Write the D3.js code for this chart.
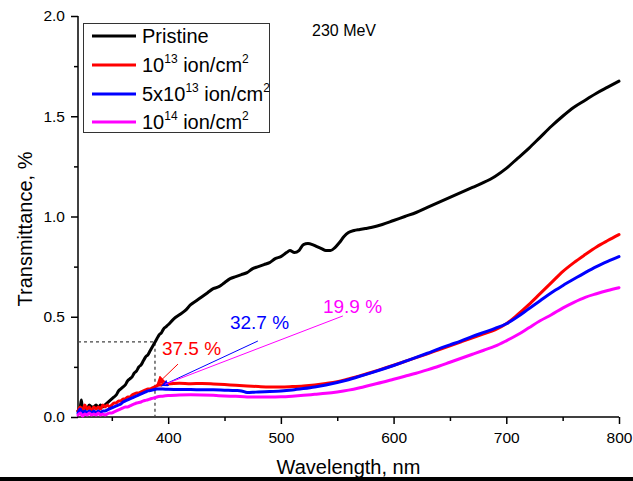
<!DOCTYPE html>
<html>
<head>
<meta charset="utf-8">
<script src="https://cdn.jsdelivr.net/npm/d3@7/dist/d3.min.js"></script>
<style>
  html, body { margin: 0; padding: 0; background: #fff; }
  svg { display: block; font-family: Arial, "Liberation Sans", sans-serif; }
</style>
</head>
<body>
<svg id="chart" width="633" height="481"></svg>
<script>
// Optical transmittance spectra of the irradiated samples (230 MeV ions)
const seriesNames = ["Pristine", "10^13 ion/cm^2", "5x10^13 ion/cm^2", "10^14 ion/cm^2"];
const seriesColors = ["#000000", "#ff0000", "#0000ff", "#ff00ff"];

const wlPristine = [320,322,323,324,326,328,330,332,334,336,338,340,342,344,346,348,350,352,354,356,358,360,362,364,366,368,370,372,374,376,378,380,382,384,386,388,390,392,394,396,398,400,405,410,415,420,425,430,435,440,445,450,455,460,465,470,475,480,485,490,495,500,505,508,512,516,520,524,528,532,536,540,544,548,552,556,560,565,570,575,580,590,600,610,620,630,640,650,660,670,680,690,700,710,720,730,740,750,760,770,780,790,800];
const tPristine = [0.03,0.05,0.085,0.04,0.05,0.04,0.06,0.05,0.05,0.06,0.045,0.06,0.05,0.06,0.07,0.08,0.09,0.10,0.11,0.13,0.14,0.15,0.16,0.18,0.19,0.20,0.22,0.23,0.25,0.26,0.28,0.30,0.31,0.33,0.35,0.37,0.39,0.41,0.42,0.44,0.45,0.46,0.49,0.51,0.53,0.56,0.58,0.60,0.62,0.64,0.65,0.67,0.69,0.70,0.71,0.72,0.74,0.75,0.76,0.77,0.79,0.80,0.82,0.83,0.82,0.83,0.86,0.865,0.86,0.85,0.84,0.83,0.83,0.845,0.87,0.90,0.92,0.93,0.935,0.94,0.945,0.96,0.98,1.00,1.02,1.045,1.07,1.095,1.12,1.145,1.17,1.20,1.24,1.29,1.34,1.395,1.45,1.50,1.545,1.58,1.615,1.645,1.675];

const wlLow = [320,322,324,326,328,330,332,334,336,338,340,342,344,346,348,350,352,354,356,358,360,362,364,366,368,370,372,374,376,378,380,382,384,386,388,390,392,394,396,398,400,410,420,430,440,450,460,470,480,490,500,510,520,530,540,550,560,570,580,590,600,610,620,630,640,650,660,670,680,690,700,710,720,730,740,750,760,770,780,790,800];
const tLow = [0.03,0.05,0.03,0.06,0.04,0.05,0.03,0.05,0.04,0.05,0.04,0.06,0.05,0.06,0.05,0.06,0.07,0.07,0.08,0.08,0.09,0.09,0.10,0.10,0.11,0.115,0.12,0.12,0.125,0.13,0.135,0.14,0.14,0.145,0.15,0.155,0.16,0.16,0.165,0.165,0.165,0.168,0.166,0.167,0.165,0.162,0.158,0.155,0.152,0.150,0.150,0.152,0.155,0.160,0.167,0.176,0.19,0.205,0.222,0.24,0.258,0.277,0.296,0.315,0.335,0.355,0.375,0.395,0.415,0.435,0.465,0.51,0.56,0.615,0.67,0.725,0.77,0.81,0.848,0.88,0.91];

const wlMid = [320,322,324,326,328,330,332,334,336,338,340,342,344,346,348,350,352,354,356,358,360,362,364,366,368,370,372,374,376,378,380,382,384,386,388,390,395,400,410,420,430,440,450,460,465,470,475,480,490,500,510,520,530,540,550,560,570,580,590,600,610,620,630,640,650,660,670,680,690,700,710,720,730,740,750,760,770,780,790,800];
const tMid = [0.02,0.04,0.02,0.03,0.02,0.03,0.02,0.03,0.02,0.03,0.02,0.03,0.03,0.035,0.04,0.045,0.05,0.055,0.06,0.065,0.075,0.08,0.085,0.09,0.095,0.10,0.105,0.11,0.115,0.12,0.125,0.13,0.132,0.135,0.137,0.14,0.14,0.138,0.137,0.137,0.136,0.136,0.134,0.132,0.13,0.122,0.123,0.125,0.127,0.13,0.135,0.142,0.150,0.16,0.172,0.186,0.203,0.22,0.238,0.257,0.277,0.297,0.318,0.34,0.36,0.38,0.402,0.422,0.442,0.465,0.5,0.54,0.58,0.62,0.655,0.688,0.72,0.75,0.776,0.80];

const wlHigh = [320,322,324,326,328,330,332,334,336,338,340,342,344,346,348,350,352,354,356,358,360,362,364,366,368,370,372,374,376,378,380,382,384,386,388,390,395,400,410,420,430,440,450,460,470,480,490,500,510,520,530,540,550,560,570,580,590,600,610,620,630,640,650,660,670,680,690,700,710,720,730,740,750,760,770,780,790,800];
const tHigh = [0.01,0.02,0.005,0.015,0.01,0.02,0.01,0.015,0.01,0.02,0.01,0.015,0.01,0.015,0.02,0.02,0.025,0.03,0.035,0.04,0.045,0.05,0.05,0.055,0.06,0.065,0.07,0.072,0.075,0.08,0.083,0.086,0.09,0.093,0.096,0.10,0.104,0.107,0.11,0.111,0.11,0.108,0.105,0.103,0.10,0.10,0.10,0.101,0.104,0.108,0.113,0.118,0.125,0.134,0.146,0.16,0.173,0.188,0.203,0.218,0.235,0.253,0.273,0.293,0.313,0.333,0.353,0.38,0.41,0.445,0.48,0.51,0.543,0.572,0.597,0.615,0.631,0.645];

const xTicks = [400, 500, 600, 700, 800];
const xMinorTicks = [350, 450, 550, 650, 750];
const yTicks = [0.0, 0.5, 1.0, 1.5, 2.0];
const yMinorTicks = [0.25, 0.75, 1.25, 1.75];

// Absorption-edge readings quoted on the plot
const edgeLabels = ["37.5 %", "32.7 %", "19.9 %"];
const edgeWavelength = 388.3;
const edgeLevel = 0.375;

const svg = d3.select("#chart");
const margin = { left: 78, right: 14, top: 16, bottom: 64 };
const W = 633, H = 481;

const x = d3.scaleLinear().domain([320, 800]).range([margin.left, W - margin.right]);
const y = d3.scaleLinear().domain([0, 2]).range([H - margin.bottom, margin.top]);

// thick rule along the bottom edge
svg.append("rect").attr("x", 0).attr("y", 477).attr("width", W).attr("height", 4).attr("fill", "#000");

// axes
const xAxis = svg.append("g").attr("transform", `translate(0,${y(0)})`)
  .call(d3.axisBottom(x).tickValues(xTicks).tickSize(7).tickPadding(8).tickFormat(d3.format("d")));
svg.append("g").attr("transform", `translate(0,${y(0)})`)
  .call(d3.axisBottom(x).tickValues(xMinorTicks).tickSize(4).tickFormat(""))
  .select(".domain").remove();
const yAxis = svg.append("g").attr("transform", `translate(${x(320)},0)`)
  .call(d3.axisLeft(y).tickValues(yTicks).tickSize(7).tickPadding(6).tickFormat(d3.format(".1f")));
svg.append("g").attr("transform", `translate(${x(320)},0)`)
  .call(d3.axisLeft(y).tickValues(yMinorTicks).tickSize(4).tickFormat(""))
  .select(".domain").remove();

svg.selectAll(".domain").attr("stroke", "#000").attr("stroke-width", 1.5);
svg.selectAll(".tick line").attr("stroke", "#000").attr("stroke-width", 1.5);
svg.selectAll(".tick text").attr("font-size", 15.5).attr("fill", "#000")
  .attr("font-family", "Arial, 'Liberation Sans', sans-serif");
xAxis.selectAll(".domain").attr("d", `M${x(320)},0H${x(800)}`);
yAxis.selectAll(".domain").attr("d", `M0,${y(0)}V${y(2)}`);

// axis titles
svg.append("text").attr("x", (x(320) + x(800)) / 2).attr("y", 474)
  .attr("text-anchor", "middle").attr("font-size", 20).text("Wavelength, nm");
svg.append("text").attr("transform", `translate(32,229) rotate(-90)`)
  .attr("text-anchor", "middle").attr("font-size", 20).text("Transmittance, %");

// dashed guide to the pristine absorption edge
svg.append("path")
  .attr("d", `M${x(320)},${y(edgeLevel)}H${x(edgeWavelength)}V${y(0)}`)
  .attr("fill", "none").attr("stroke", "#444").attr("stroke-width", 1.3).attr("stroke-dasharray", "3,3");

// spectra
const series = [
  { wl: wlPristine, t: tPristine },
  { wl: wlLow, t: tLow },
  { wl: wlMid, t: tMid },
  { wl: wlHigh, t: tHigh }
];
const line = d3.line().x(d => x(d[0])).y(d => y(d[1])).curve(d3.curveMonotoneX);
series.forEach((s, i) => {
  svg.append("path")
    .datum(s.wl.map((w, k) => [w, s.t[k]]))
    .attr("d", line)
    .attr("fill", "none")
    .attr("stroke", seriesColors[i])
    .attr("stroke-width", 3)
    .attr("stroke-linejoin", "round")
    .attr("stroke-linecap", "round");
});

// arrowheads
const defs = svg.append("defs");
[["arrR", "#ff0000", 9], ["arrB", "#0000ff", 7]].forEach(([id, c, s]) => {
  defs.append("marker").attr("id", id).attr("viewBox", "0 0 10 10")
    .attr("refX", 10).attr("refY", 5).attr("markerWidth", s).attr("markerHeight", s)
    .attr("markerUnits", "userSpaceOnUse").attr("orient", "auto")
    .append("path").attr("d", "M0,0L10,5L0,10z").attr("fill", c);
});

// annotation pointers (tail -> tip, in data units)
const pointers = [
  { from: [408.7, 0.264], to: [389.5, 0.16], color: "#ff0000", marker: "url(#arrR)" },
  { from: [479.6, 0.379], to: [394.0, 0.155], color: "#0000ff", marker: "url(#arrB)" },
  { from: [555.0, 0.504], to: [397.0, 0.163], color: "#ff00ff", marker: null }
];
pointers.forEach(p => {
  const l = svg.append("line")
    .attr("x1", x(p.from[0])).attr("y1", y(p.from[1]))
    .attr("x2", x(p.to[0])).attr("y2", y(p.to[1]))
    .attr("stroke", p.color).attr("stroke-width", 1);
  if (p.marker) l.attr("marker-end", p.marker);
});

const labelPos = [[394.5, 0.309], [454.8, 0.439], [537.3, 0.519]];
edgeLabels.forEach((t, i) => {
  svg.append("text").attr("x", x(labelPos[i][0])).attr("y", y(labelPos[i][1]))
    .attr("font-size", 19).attr("fill", seriesColors[i + 1]).text(t);
});

// energy tag
svg.append("text").attr("x", 312).attr("y", 36).attr("font-size", 16).text("230 MeV");

// legend
const legend = svg.append("g");
legend.append("rect").attr("x", 83.5).attr("y", 23.5).attr("width", 186).attr("height", 109)
  .attr("fill", "#fff").attr("stroke", "#333").attr("stroke-width", 1);
const rowY = [36, 65, 94, 122];
seriesNames.forEach((name, i) => {
  legend.append("line").attr("x1", 92).attr("x2", 136).attr("y1", rowY[i]).attr("y2", rowY[i])
    .attr("stroke", seriesColors[i]).attr("stroke-width", 3);
  const txt = legend.append("text").attr("x", 142).attr("y", rowY[i] + 7).attr("font-size", 20);
  // "a^b c^d": plain runs on the baseline, exponents raised and smaller
  const parts = name.split(/(\^\d+)/).filter(s => s.length);
  let raised = false;
  parts.forEach(p => {
    if (p.startsWith("^")) {
      txt.append("tspan").attr("font-size", 12).attr("dy", -9).text(p.slice(1));
      raised = true;
    } else {
      txt.append("tspan").attr("dy", raised ? 9 : 0).text(p);
      raised = false;
    }
  });
});
</script>
</body>
</html>
